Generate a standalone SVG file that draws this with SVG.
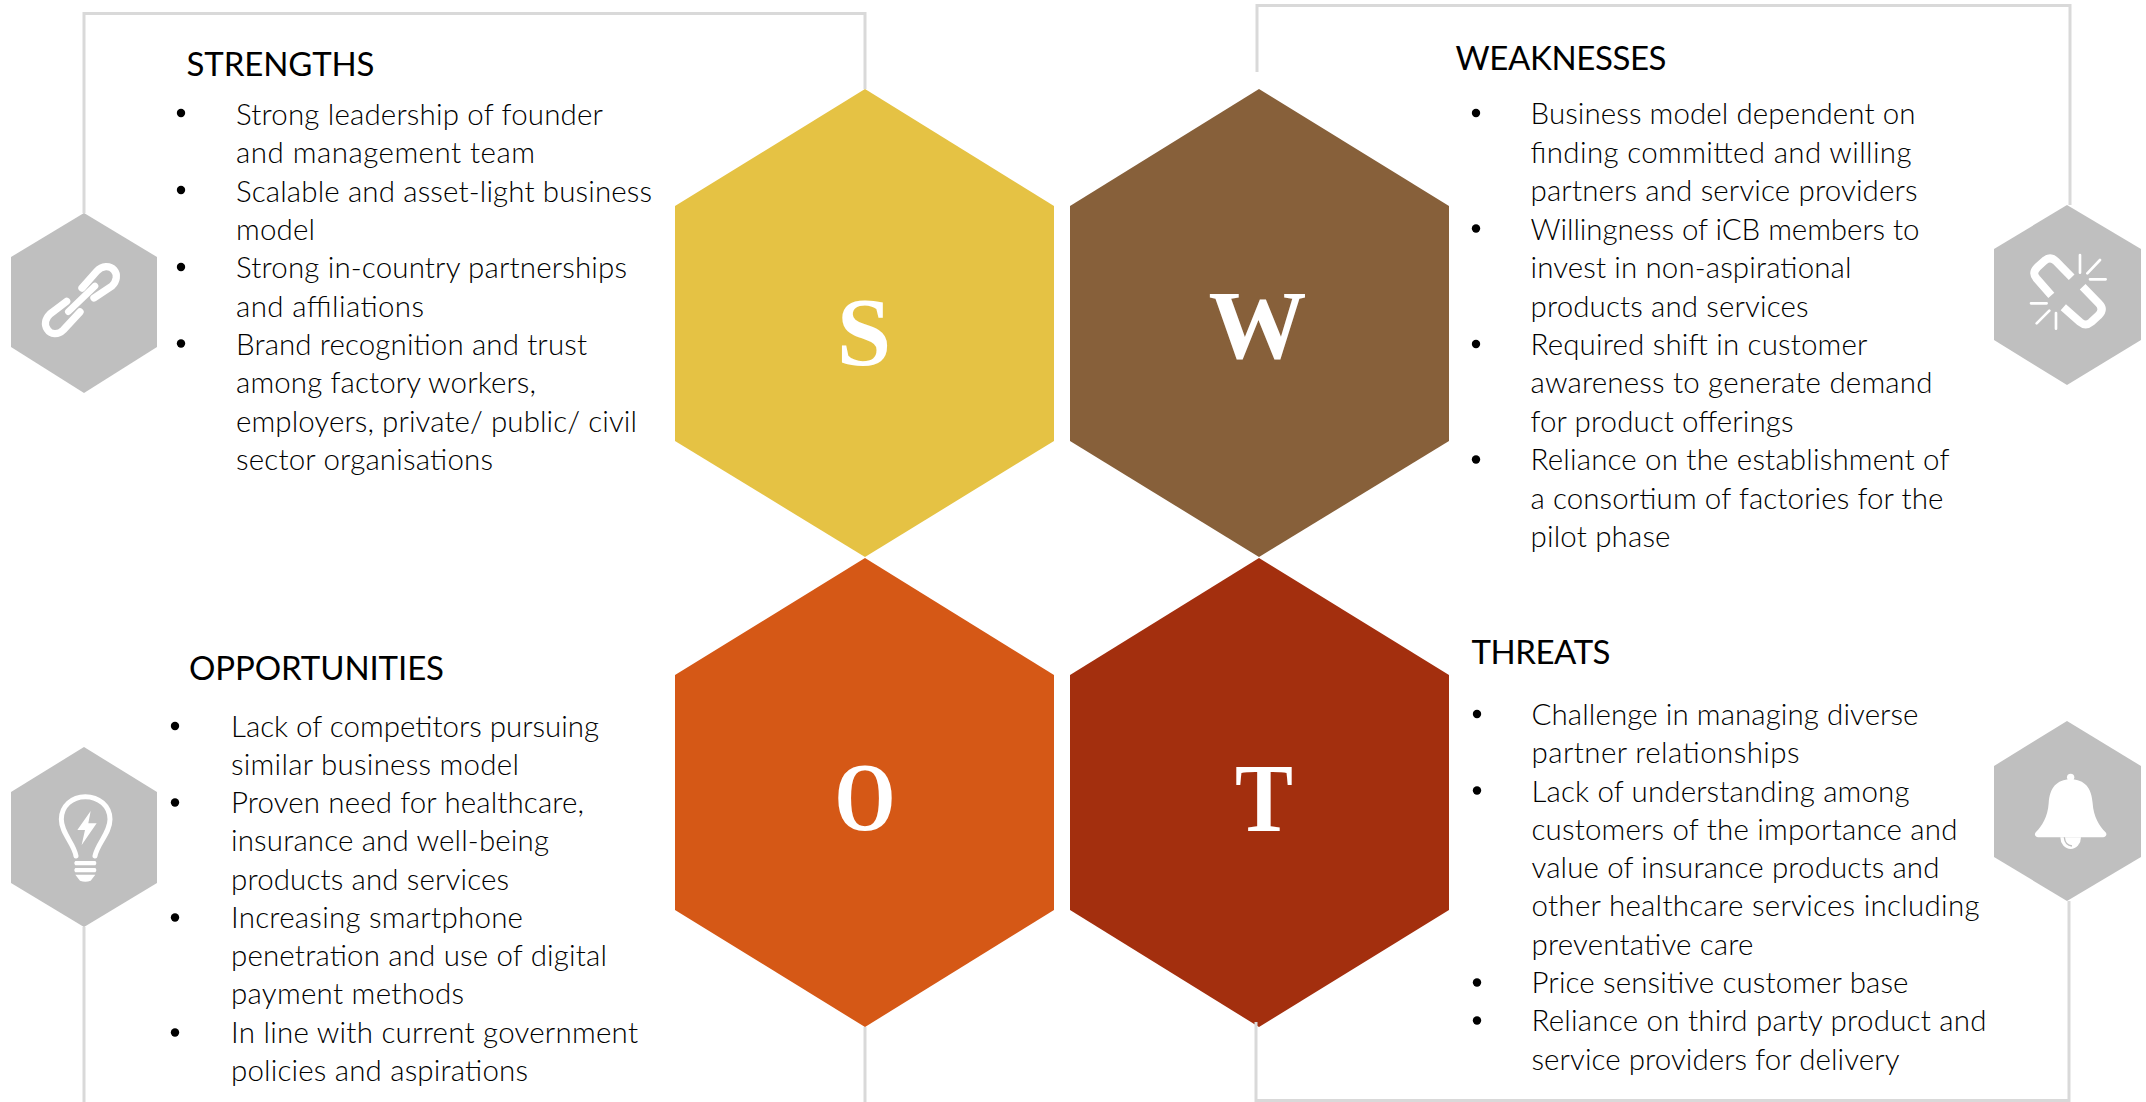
<svg xmlns="http://www.w3.org/2000/svg" width="2146" height="1102" viewBox="0 0 2146 1102">
<style>
text{font-family:"Lato","Carlito","Liberation Sans",sans-serif}
.h{font-size:33px;font-weight:400;fill:#000}
.b{font-size:29.5px;font-weight:300;fill:#000}
.l{font-family:"Liberation Serif",serif;font-weight:700;font-size:98px;fill:#fff;text-anchor:middle}
.f{fill:none;stroke:#d9d9d9;stroke-width:3}
.ic{fill:#bfbfbf}
.w{fill:#fff}
.s{fill:none;stroke:#fff;stroke-linecap:round;stroke-linejoin:round}
.d{fill:#000}
</style>
<rect width="2146" height="1102" fill="#fff"/>
<g id="hexagons">
<g id="hex-s"><polygon points="865,89 1054,206 1054,441 865,557 675,441 675,206" fill="#e5c244"/><text class="l" x="864" y="365">S</text></g>
<g id="hex-w"><polygon points="1259,89 1449,206 1449,441 1259,557 1070,441 1070,206" fill="#87603a"/><text class="l" x="1257.5" y="358">W</text></g>
<g id="hex-o"><polygon points="865,558 1054,675 1054,910 865,1027 675,910 675,675" fill="#d55816"/><text class="l" x="865" y="830" textLength="61" lengthAdjust="spacingAndGlyphs">O</text></g>
<g id="hex-t"><polygon points="1259,558 1449,675 1449,910 1259,1027 1070,910 1070,675" fill="#a32f0e"/><text class="l" x="1264" y="831" textLength="58" lengthAdjust="spacingAndGlyphs">T</text></g>
</g>
<g id="icon-s">
<polygon class="ic" points="84,213 157,257 157,347 84,393 11,347 11,257"/>
<g transform="translate(0,200) scale(.3333)">
<path class="s" stroke-width="22" d="M246 264L290 214C306 196 330 196 342 210C354 224 350 244 336 258L282 294"/>
<path class="s" stroke-width="22" d="M240 336L190 390C174 406 152 404 142 388C132 374 136 356 150 342L200 304"/>
<path class="s" stroke-width="20" d="M205 335L285 258"/>
</g>
</g>
<g id="icon-w">
<polygon class="ic" points="2067,205 2141,249 2141,340 2067,385 1994,340 1994,249"/>
<g transform="translate(1950,180) scale(.3333)">
<path class="s" stroke-width="24" style="stroke-linecap:butt" d="M365 292L318 244C306 232 294 234 284 242L262 262C250 274 250 284 260 296L304 346"/>
<path class="s" stroke-width="24" style="stroke-linecap:butt" d="M398 320L446 370C458 382 458 394 446 406L424 426C412 436 402 436 390 426L340 382"/>
<path class="s" stroke-width="8" d="M390 225V278M450 240L412 280M467 298H420M243 370H290M260 430L298 392M318 399V446"/>
</g>
</g>
<g id="icon-o">
<polygon class="ic" points="84,747 157,792 157,883 84,927 11,883 11,792"/>
<g transform="translate(0,730) scale(.3333)">
<path class="s" stroke-width="15" d="M228 378C222 340 184 310 184 268C184 228 216 200 256 200C296 200 330 228 330 268C330 310 292 340 285 378"/>
<path class="w" d="M226 393H286Q292 399 286 406H226Q220 399 226 393ZM226 414H286Q292 420 286 427H226Q220 420 226 414ZM226 434H286L272 452Q256 458 240 452Z"/>
<polygon class="w" points="272,243 232,300 255,300 245,345 290,280 265,280"/>
</g>
</g>
<g id="icon-t">
<polygon class="ic" points="2067,721 2141,766 2141,857 2067,901 1994,857 1994,766"/>
<g transform="translate(1950,700) scale(.3333)">
<circle class="w" cx="362" cy="232" r="11"/>
<path class="w" d="M362 238C320 238 298 265 296 310C294 350 275 380 258 396C250 405 258 412 268 412H456C466 412 474 405 466 396C449 380 430 350 428 310C426 265 404 238 362 238Z"/>
<path class="w" d="M331 412A31 35 0 0 0 393 412Z"/>
<path fill="none" stroke="#bfbfbf" stroke-width="4" d="M343 412Q345 436 366 438"/>
</g>
</g>
<g id="connectors">
<path class="f" d="M84 213V13.5H865V89"/>
<path class="f" d="M1257 72V5.500H2070V205"/>
<path class="f" d="M84 927V1102"/>
<path class="f" d="M865 1027V1102"/>
<path class="f" d="M1256 1022V1100.500H2069V901"/>
</g>
<g id="strengths">
<text class="h" x="186.500" y="76" textLength="188">STRENGTHS</text>
<circle class="d" cx="181" cy="113" r="4.2"/><circle class="d" cx="181" cy="190" r="4.2"/><circle class="d" cx="181" cy="267" r="4.2"/><circle class="d" cx="181" cy="343.500" r="4.2"/>
<text class="b" x="236" y="125" textLength="367">Strong leadership of founder</text>
<text class="b" x="236" y="163.300" textLength="299">and management team</text>
<text class="b" x="236" y="201.700" textLength="416">Scalable and asset-light business</text>
<text class="b" x="236" y="240" textLength="79">model</text>
<text class="b" x="236" y="278.300" textLength="391">Strong in-country partnerships</text>
<text class="b" x="236" y="316.700" textLength="188">and affiliations</text>
<text class="b" x="236" y="355" textLength="351">Brand recognition and trust</text>
<text class="b" x="236" y="393.300" textLength="300">among factory workers,</text>
<text class="b" x="236" y="431.700" textLength="401">employers, private/ public/ civil</text>
<text class="b" x="236" y="470" textLength="257">sector organisations</text>
</g>
<g id="weaknesses">
<text class="h" x="1455.500" y="69.500" textLength="211">WEAKNESSES</text>
<circle class="d" cx="1476" cy="113" r="4.2"/><circle class="d" cx="1476" cy="228.500" r="4.2"/><circle class="d" cx="1476" cy="344" r="4.2"/><circle class="d" cx="1476" cy="459.500" r="4.2"/>
<text class="b" x="1530.500" y="124" textLength="385">Business model dependent on</text>
<text class="b" x="1530.500" y="162.500" textLength="381">finding committed and willing</text>
<text class="b" x="1530.500" y="201" textLength="387">partners and service providers</text>
<text class="b" x="1530.500" y="239.500" textLength="389">Willingness of iCB members to</text>
<text class="b" x="1530.500" y="278" textLength="321">invest in non-aspirational</text>
<text class="b" x="1530.500" y="316.500" textLength="278">products and services</text>
<text class="b" x="1530.500" y="355" textLength="337">Required shift in customer</text>
<text class="b" x="1530.500" y="393" textLength="402">awareness to generate demand</text>
<text class="b" x="1530.500" y="431.500" textLength="263">for product offerings</text>
<text class="b" x="1530.500" y="470" textLength="419">Reliance on the establishment of</text>
<text class="b" x="1530.500" y="508.500" textLength="413">a consortium of factories for the</text>
<text class="b" x="1530.500" y="547" textLength="140">pilot phase</text>
</g>
<g id="opportunities">
<text class="h" x="189" y="680" textLength="255">OPPORTUNITIES</text>
<circle class="d" cx="175" cy="726" r="4.2"/><circle class="d" cx="175" cy="802.500" r="4.2"/><circle class="d" cx="175" cy="917.500" r="4.2"/><circle class="d" cx="175" cy="1032.500" r="4.2"/>
<text class="b" x="231" y="736.500" textLength="368">Lack of competitors pursuing</text>
<text class="b" x="231" y="774.800" textLength="288">similar business model</text>
<text class="b" x="231" y="813" textLength="353">Proven need for healthcare,</text>
<text class="b" x="231" y="851.300" textLength="318">insurance and well-being</text>
<text class="b" x="231" y="889.500" textLength="278">products and services</text>
<text class="b" x="231" y="927.800" textLength="292">Increasing smartphone</text>
<text class="b" x="231" y="966" textLength="376">penetration and use of digital</text>
<text class="b" x="231" y="1004.300" textLength="233">payment methods</text>
<text class="b" x="231" y="1042.500" textLength="407">In line with current government</text>
<text class="b" x="231" y="1080.800" textLength="297">policies and aspirations</text>
</g>
<g id="threats">
<text class="h" x="1471.500" y="664" textLength="139">THREATS</text>
<circle class="d" cx="1477" cy="714" r="4.2"/><circle class="d" cx="1477" cy="790.500" r="4.2"/><circle class="d" cx="1477" cy="982.500" r="4.2"/><circle class="d" cx="1477" cy="1020.500" r="4.2"/>
<text class="b" x="1531.500" y="725" textLength="387">Challenge in managing diverse</text>
<text class="b" x="1531.500" y="763.300" textLength="268">partner relationships</text>
<text class="b" x="1531.500" y="801.500" textLength="378">Lack of understanding among</text>
<text class="b" x="1531.500" y="839.800" textLength="426">customers of the importance and</text>
<text class="b" x="1531.500" y="878" textLength="408">value of insurance products and</text>
<text class="b" x="1531.500" y="916.300" textLength="448">other healthcare services including</text>
<text class="b" x="1531.500" y="954.500" textLength="222">preventative care</text>
<text class="b" x="1531.500" y="993" textLength="377">Price sensitive customer base</text>
<text class="b" x="1531.500" y="1031.300" textLength="455">Reliance on third party product and</text>
<text class="b" x="1531.500" y="1070" textLength="368">service providers for delivery</text>
</g>
</svg>
